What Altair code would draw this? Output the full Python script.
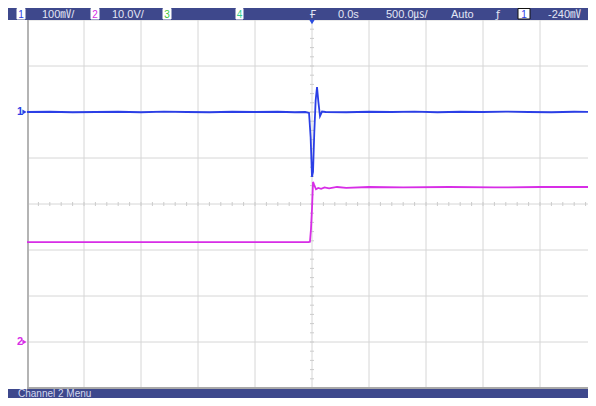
import altair as alt
import pandas as pd

# ---------------- data (read from the screen) ----------------
# time axis: 500 us/div, 10 divisions, trigger at 0
x_grid_us = [-2500, -2000, -1500, -1000, -500, 0, 500, 1000, 1500, 2000, 2500]
y_grid_div = [-4, -3, -2, -1, 0, 1, 2, 3, 4]

# Channel 1 (100 mV/div), ground marker at +2 div
ch1_offset_div = 2.0
ch1_scale_mv = 100.0
ch1_t = [-2500, -2300, -2100, -1900, -1700, -1500, -1300, -1100, -900, -700,
         -500, -300, -150, -60, -26, -12, 0, 9, 20, 32, 44, 56, 70, 88, 120,
         300, 500, 700, 900, 1100, 1300, 1500, 1700, 1900, 2100, 2300, 2500]
ch1_mv = [0, 0.5, -0.5, 0, 0.5, -0.5, 1, 0, -0.5, 0.5,
          0, 0.5, -0.5, 0, -2, -55, -141, -130, -45, 25, 54, 22, -9, 1, 0,
          -0.5, 0.5, 0, 1, -0.5, 0.5, 0, 1, 0, -0.5, 0.5, 0]

# Channel 2 (10 V/div), ground marker at -3 div
ch2_offset_div = -3.0
ch2_scale_v = 10.0
ch2_t = [-2500, -1500, -500, -30, -18, -9, 0, 9, 18, 35, 55, 80, 110, 150,
         220, 300, 500, 800, 1200, 1600, 2000, 2500]
ch2_v = [21.7, 21.7, 21.7, 21.7, 21.8, 24.5, 29.0, 34.8, 34.2, 33.2, 33.5,
         33.3, 33.6, 33.4, 33.7, 33.5, 33.7, 33.6, 33.7, 33.6, 33.7, 33.7]

# status bar texts
top_texts = ["100㎷/", "10.0V/", "0.0s", "500.0㎲/", "Auto", "-240㎷"]
box_labels = ["1", "2", "3", "4", "1"]
box_colors = ["#2b3fe6", "#d72de6", "#3cc43c", "#2fd08a", "#2b3fe6"]
bottom_text = "Channel 2 Menu"

# ---------------- tables ----------------
ch1 = pd.DataFrame({"t": ch1_t,
                    "d": [ch1_offset_div + v / ch1_scale_mv for v in ch1_mv]})
ch2 = pd.DataFrame({"t": ch2_t,
                    "d": [ch2_offset_div + v / ch2_scale_v for v in ch2_v]})
vgrid = pd.DataFrame({"t": x_grid_us})
hgrid = pd.DataFrame({"d": y_grid_div})
hticks = pd.DataFrame({"t": [x for x in range(-2500, 2501, 100)]})
vticks = pd.DataFrame({"d": [i / 5 for i in range(-20, 21)]})

# plot area is 561 px wide (page limit); 57 px per division, trigger at 285 px
W, H = 561, 368
x_right = (W - 285) / 285 * 2500
xs = alt.Scale(domain=[-2500, x_right], nice=False, zero=False)
ys = alt.Scale(domain=[-4, 4], nice=False, zero=False)
X = lambda f: alt.X(f, scale=xs, axis=None)
Y = lambda f: alt.Y(f, scale=ys, axis=None)

FONT = "Liberation Sans, Noto Sans CJK JP, DejaVu Sans"
BAR = "#3e488c"
TXT = "#e2e6f5"

layers = []

# graticule
layers.append(alt.Chart(vgrid).mark_rule(color="#d6d6d6", strokeWidth=1, clip=True).encode(x=X("t:Q")))
layers.append(alt.Chart(hgrid).mark_rule(color="#d6d6d6", strokeWidth=1).encode(y=Y("d:Q")))
layers.append(alt.Chart(hticks).mark_rule(color="#cccccc", clip=True).encode(
    x=X("t:Q"), y=alt.value(182), y2=alt.value(186)))
layers.append(alt.Chart(vticks).mark_rule(color="#cccccc").encode(
    y=Y("d:Q"), x=alt.value(283), x2=alt.value(287)))
# frame
layers.append(alt.Chart(vgrid).mark_rule(color="#b4b4b4", strokeWidth=2).encode(
    x=alt.value(1), y=alt.value(0), y2=alt.value(H)))
layers.append(alt.Chart(vgrid).mark_rule(color="#a8a8a8", strokeWidth=1).encode(
    x=alt.value(0), x2=alt.value(W), y=alt.value(H)))

# traces
layers.append(alt.Chart(ch2).mark_line(color="#d72de6", strokeWidth=1.8, clip=True).encode(
    x=X("t:Q"), y=Y("d:Q")))
layers.append(alt.Chart(ch1).mark_line(color="#2b3fe6", strokeWidth=1.8, clip=True).encode(
    x=X("t:Q"), y=Y("d:Q")))

# ground markers
gm = pd.DataFrame({"d": [ch1_offset_div, ch2_offset_div],
                   "lab": ["1", "2"], "c": ["#2b3fe6", "#d72de6"]})
layers.append(alt.Chart(gm).mark_text(font=FONT, fontSize=11, fontWeight="bold",
                                      align="center", baseline="middle").encode(
    x=alt.value(-7), y=Y("d:Q"), text="lab:N", color=alt.Color("c:N", scale=None)))
layers.append(alt.Chart(gm).mark_point(shape="triangle-right", filled=True, size=24, opacity=1).encode(
    x=alt.value(-2.5), y=Y("d:Q"), color=alt.Color("c:N", scale=None)))

# status bars
layers.append(alt.Chart(gm).mark_rect(color=BAR).encode(
    x=alt.value(-19), x2=alt.value(W), y=alt.value(-12), y2=alt.value(0)))
layers.append(alt.Chart(gm).mark_rect(color=BAR).encode(
    x=alt.value(-19), x2=alt.value(W), y=alt.value(H + 1), y2=alt.value(H + 10)))

# trigger marker
trig = pd.DataFrame({"t": [0]})
layers.append(alt.Chart(trig).mark_point(shape="triangle-down", filled=True, size=30,
                                         color="#2a4de0", opacity=1).encode(
    x=X("t:Q"), y=alt.value(2)))

# top bar boxes
box_x = [(-10, -2), (64, 72), (136, 144), (209, 216), (491, 503)]
for (a, b), lab, col in zip(box_x, box_labels, box_colors):
    stroke = "#111111" if a > 400 else "#ffffff"
    layers.append(alt.Chart(trig).mark_rect(color="#ffffff", stroke=stroke, strokeWidth=1).encode(
        x=alt.value(a), x2=alt.value(b), y=alt.value(-11.5), y2=alt.value(-1)))
    layers.append(alt.Chart(trig).mark_text(font=FONT, fontSize=10, color=col,
                                            align="center", baseline="middle").encode(
        x=alt.value((a + b) / 2), y=alt.value(-5.5), text=alt.value(lab)))

# top bar texts
text_x = [15, 85, 311, 359, 424, 521]
for tx, s in zip(text_x, top_texts):
    layers.append(alt.Chart(trig).mark_text(font=FONT, fontSize=11, color=TXT,
                                            align="left", baseline="middle").encode(
        x=alt.value(tx), y=alt.value(-5.5), text=alt.value(s)))
# trigger glyphs
layers.append(alt.Chart(trig).mark_text(font="DejaVu Sans", fontSize=10, color=TXT,
                                        align="center", baseline="middle").encode(
    x=alt.value(286), y=alt.value(-5.5), text=alt.value("Ғ")))
layers.append(alt.Chart(trig).mark_text(font="DejaVu Sans", fontSize=11, color=TXT,
                                        align="center", baseline="middle").encode(
    x=alt.value(471), y=alt.value(-5.5), text=alt.value("ƒ")))

# bottom bar text
layers.append(alt.Chart(trig).mark_text(font=FONT, fontSize=10, color="#d4d8ee",
                                        align="left", baseline="middle").encode(
    x=alt.value(-9), y=alt.value(H + 5.5), text=alt.value(bottom_text)))

chart = alt.layer(*layers).properties(
    width=W, height=H,
    padding={"left": 19, "top": 12, "right": 0, "bottom": 10},
    autosize=alt.AutoSizeParams(type="none"),
    background="white",
).configure_view(stroke=None)

chart.save("out.html", embed_options={"renderer": "svg", "actions": False})
